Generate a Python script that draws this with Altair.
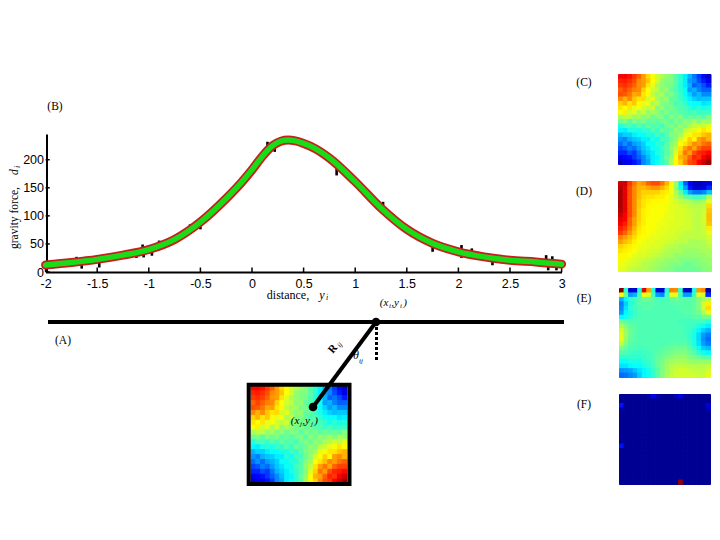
import altair as alt
import pandas as pd

# ---- curve ----
curve_x = [-2, -1.75, -1.5, -1.25, -1, -0.75, -0.5, -0.25, -0.1, 0, 0.1, 0.2, 0.28, 0.35, 0.42, 0.5, 0.6, 0.75, 1, 1.25, 1.5, 1.75, 2, 2.25, 2.5, 2.75, 3]
curve_y = [12.5, 17, 22.5, 30, 40, 58, 89, 131, 160, 182, 206, 225, 233, 235, 233.5, 229, 221, 203, 161, 114, 76, 51, 36, 27, 21, 18, 14]

noise_x = [-1.92, -1.7, -1.65, -1.55, -1.48, -1.4, -1.12, -1.06, -1.05, -0.97, -0.9, -0.6, -0.5, 0.15, 0.22, 0.82, 0.87, 1.27, 1.37, 1.75, 2.03, 2.03, 2.13, 2.33, 2.85, 2.87, 2.91, 2.95]
noise_lo = [7, 17, 6, 20, 8, 20, 25, 38, 26, 29, 44, 76, 76, 218, 214, 172, 180, 110, 90, 36, 40, 25, 35, 12, 18, 3, 18, 3]
noise_hi = [20, 27, 14, 28, 18, 28, 40, 49, 36, 38, 56, 85, 86, 232, 224, 190, 192, 125, 103, 50, 48, 35, 42, 22, 30, 14, 28, 12]

x_ticks = [-2, -1.5, -1, -0.5, 0, 0.5, 1, 1.5, 2, 2.5, 3]
y_ticks = [0, 50, 100, 150, 200]

# ---- heat maps ----
map_c = [
[.88,.88,.86,.82,.78,.72,.66,.62,.58,.55,.52,.50,.46,.42,.36,.30,.24,.18,.13,.07],
[.84,.85,.83,.80,.74,.72,.68,.62,.58,.52,.50,.50,.46,.42,.36,.28,.26,.20,.15,.10],
[.82,.83,.81,.78,.73,.72,.65,.60,.54,.52,.50,.49,.46,.41,.36,.30,.22,.24,.20,.15],
[.78,.81,.78,.75,.74,.67,.62,.58,.56,.51,.52,.47,.45,.42,.38,.28,.30,.25,.22,.22],
[.80,.79,.76,.71,.72,.65,.63,.56,.53,.54,.49,.50,.46,.43,.38,.33,.28,.31,.26,.26],
[.74,.70,.74,.68,.65,.66,.58,.60,.54,.51,.52,.47,.47,.43,.40,.36,.33,.31,.32,.32],
[.67,.70,.65,.68,.63,.60,.62,.54,.56,.50,.50,.48,.44,.46,.42,.39,.38,.38,.35,.36],
[.65,.62,.65,.60,.62,.58,.56,.58,.50,.52,.48,.50,.47,.45,.44,.42,.39,.42,.39,.41],
[.62,.64,.58,.60,.54,.58,.52,.54,.52,.48,.50,.47,.48,.46,.45,.43,.45,.42,.43,.43],
[.54,.56,.56,.52,.54,.50,.52,.48,.50,.50,.46,.50,.48,.50,.46,.48,.46,.48,.46,.50],
[.48,.50,.46,.50,.48,.50,.46,.48,.46,.48,.50,.46,.50,.48,.52,.50,.54,.50,.54,.52],
[.41,.44,.45,.43,.46,.44,.48,.45,.46,.44,.48,.50,.48,.52,.50,.54,.56,.58,.56,.60],
[.37,.36,.40,.41,.40,.43,.42,.46,.43,.48,.46,.48,.52,.50,.56,.58,.60,.62,.65,.63],
[.30,.33,.33,.36,.38,.38,.41,.40,.44,.42,.46,.50,.50,.54,.60,.62,.65,.65,.68,.70],
[.27,.25,.30,.32,.33,.36,.36,.41,.39,.44,.44,.48,.52,.58,.62,.67,.63,.72,.74,.70],
[.23,.27,.23,.28,.30,.33,.38,.38,.42,.41,.46,.50,.54,.62,.65,.69,.74,.72,.76,.78],
[.19,.21,.25,.23,.28,.32,.35,.39,.39,.44,.46,.52,.56,.65,.72,.76,.71,.78,.81,.81],
[.16,.16,.20,.18,.24,.30,.33,.36,.40,.42,.46,.50,.60,.67,.76,.72,.80,.84,.85,.87],
[.11,.13,.14,.18,.22,.26,.31,.36,.37,.42,.48,.52,.62,.70,.72,.78,.84,.82,.88,.92],
[.07,.10,.11,.14,.18,.26,.29,.36,.39,.42,.46,.54,.63,.67,.74,.80,.82,.88,.92,.97],
]

map_d = [
[.92,.92,.82,.76,.71,.73,.78,.80,.80,.76,.70,.63,.52,.36,.22,.12,.07,.06,.07,.10],
[.94,.90,.80,.74,.70,.69,.71,.73,.73,.70,.66,.61,.52,.38,.28,.14,.08,.08,.10,.16],
[.96,.90,.80,.74,.69,.67,.67,.67,.67,.65,.64,.61,.54,.46,.36,.28,.24,.24,.26,.32],
[.96,.90,.80,.74,.69,.66,.65,.65,.64,.64,.62,.60,.56,.52,.48,.46,.44,.44,.46,.55],
[.96,.90,.80,.74,.68,.65,.64,.63,.63,.63,.62,.60,.58,.56,.55,.54,.52,.52,.54,.60],
[.96,.90,.80,.74,.68,.65,.63,.63,.62,.62,.61,.60,.59,.58,.57,.56,.55,.55,.56,.66],
[.95,.90,.80,.74,.67,.64,.63,.62,.62,.62,.61,.60,.59,.59,.58,.57,.56,.56,.57,.68],
[.93,.88,.80,.74,.67,.64,.63,.62,.62,.62,.60,.60,.59,.59,.58,.58,.56,.56,.58,.69],
[.90,.88,.78,.72,.67,.64,.62,.62,.62,.61,.60,.60,.59,.59,.58,.58,.56,.56,.58,.69],
[.88,.85,.78,.72,.66,.64,.62,.62,.61,.61,.60,.59,.59,.59,.58,.58,.56,.56,.58,.68],
[.85,.82,.76,.70,.65,.63,.62,.62,.61,.60,.60,.59,.59,.58,.58,.58,.56,.56,.57,.64],
[.82,.78,.73,.68,.64,.63,.62,.61,.60,.60,.59,.59,.58,.58,.56,.56,.56,.56,.57,.60],
[.75,.72,.69,.66,.63,.62,.61,.60,.60,.59,.59,.58,.58,.56,.56,.56,.56,.56,.56,.58],
[.72,.69,.67,.64,.62,.61,.60,.60,.59,.59,.58,.58,.56,.56,.56,.54,.54,.54,.55,.57],
[.67,.65,.64,.63,.61,.60,.60,.59,.59,.58,.56,.56,.55,.54,.54,.54,.54,.54,.54,.56],
[.65,.64,.63,.62,.60,.60,.59,.58,.58,.56,.55,.54,.54,.54,.52,.52,.52,.53,.54,.54],
[.63,.63,.62,.60,.59,.59,.58,.57,.56,.55,.54,.54,.52,.52,.52,.52,.52,.52,.52,.54],
[.63,.61,.60,.59,.58,.57,.56,.55,.54,.54,.52,.52,.52,.50,.50,.50,.50,.51,.52,.52],
[.61,.60,.59,.58,.57,.55,.55,.54,.53,.52,.52,.50,.50,.50,.48,.48,.50,.50,.51,.52],
[.60,.59,.57,.56,.55,.55,.54,.53,.52,.51,.50,.50,.48,.48,.48,.48,.48,.49,.50,.51],
]

map_e = [
[1.0,.42,.08,.08,.40,.90,.72,.40,.08,.08,.42,.75,.74,.42,.06,.06,.40,.72,.74,.03],
[.62,.48,.28,.30,.46,.62,.60,.44,.28,.26,.44,.60,.60,.44,.28,.28,.44,.60,.58,.16],
[.30,.37,.42,.44,.46,.48,.48,.46,.45,.44,.45,.47,.48,.47,.46,.46,.47,.50,.54,.56],
[.25,.33,.40,.44,.46,.46,.46,.46,.45,.45,.45,.46,.46,.46,.46,.46,.47,.50,.58,.64],
[.26,.35,.42,.44,.45,.46,.46,.45,.45,.45,.45,.45,.45,.46,.46,.46,.47,.50,.58,.66],
[.28,.37,.40,.43,.45,.45,.45,.45,.45,.45,.45,.45,.45,.45,.46,.46,.47,.49,.54,.60],
[.37,.39,.42,.44,.45,.45,.45,.45,.45,.45,.45,.45,.45,.45,.45,.45,.46,.46,.48,.48],
[.48,.46,.45,.45,.45,.45,.45,.45,.45,.45,.45,.45,.45,.44,.44,.44,.44,.44,.44,.42],
[.54,.50,.47,.46,.45,.45,.45,.45,.45,.45,.45,.45,.45,.45,.44,.44,.43,.41,.38,.36],
[.58,.52,.48,.46,.45,.45,.45,.45,.45,.45,.45,.45,.45,.45,.44,.43,.41,.37,.33,.30],
[.60,.53,.48,.46,.45,.45,.45,.45,.45,.45,.45,.45,.45,.45,.44,.43,.40,.34,.28,.25],
[.60,.52,.47,.46,.45,.45,.45,.45,.45,.45,.45,.45,.45,.45,.45,.43,.40,.34,.27,.23],
[.56,.50,.46,.45,.45,.45,.45,.45,.45,.45,.45,.46,.46,.46,.46,.44,.41,.35,.28,.25],
[.50,.47,.45,.45,.44,.44,.45,.45,.45,.46,.47,.47,.48,.48,.48,.46,.43,.38,.33,.31],
[.46,.45,.44,.43,.43,.44,.44,.45,.46,.47,.48,.49,.50,.50,.50,.48,.46,.42,.39,.37],
[.42,.42,.42,.42,.42,.42,.44,.45,.47,.48,.50,.51,.52,.52,.52,.50,.49,.48,.46,.46],
[.38,.38,.40,.40,.40,.42,.43,.45,.47,.49,.52,.53,.54,.54,.54,.53,.52,.52,.52,.52],
[.35,.35,.37,.38,.38,.40,.42,.44,.47,.50,.53,.55,.56,.56,.56,.55,.55,.55,.55,.56],
[.27,.28,.29,.32,.35,.37,.40,.43,.46,.50,.53,.56,.57,.58,.58,.57,.56,.56,.56,.58],
[.23,.24,.26,.28,.33,.37,.39,.42,.46,.50,.54,.56,.58,.58,.58,.58,.58,.57,.57,.60],
]

map_f = [
[.02,.02,.02,.02,.02,.02,.04,.10,.05,.02,.02,.02,.05,.10,.02,.02,.02,.02,.02,.02],
[.02,.02,.02,.02,.02,.02,.02,.02,.02,.02,.02,.02,.02,.02,.02,.02,.02,.02,.02,.02],
[.14,.02,.02,.02,.02,.02,.02,.02,.02,.02,.02,.02,.02,.02,.02,.02,.02,.02,.02,.08],
[.04,.02,.02,.02,.02,.02,.02,.02,.02,.02,.02,.02,.02,.02,.02,.02,.02,.02,.02,.05],
[.02,.02,.02,.02,.02,.02,.02,.02,.02,.02,.02,.02,.02,.02,.02,.02,.02,.02,.02,.02],
[.02,.02,.02,.02,.02,.02,.02,.02,.02,.02,.02,.02,.02,.02,.02,.02,.02,.02,.02,.02],
[.02,.02,.02,.02,.02,.02,.02,.02,.02,.02,.02,.02,.02,.02,.02,.02,.02,.02,.02,.02],
[.02,.02,.02,.02,.02,.02,.02,.02,.02,.02,.02,.02,.02,.02,.02,.02,.02,.02,.02,.02],
[.02,.02,.02,.02,.02,.02,.02,.02,.02,.02,.02,.02,.02,.02,.02,.02,.02,.02,.02,.02],
[.02,.02,.02,.02,.02,.02,.02,.02,.02,.02,.02,.02,.02,.02,.02,.02,.02,.02,.02,.02],
[.02,.02,.02,.02,.02,.02,.02,.02,.02,.02,.02,.02,.02,.02,.02,.02,.02,.02,.02,.02],
[.14,.02,.02,.02,.02,.02,.02,.02,.02,.02,.02,.02,.02,.02,.02,.02,.02,.02,.02,.02],
[.02,.02,.02,.02,.02,.02,.02,.02,.02,.02,.02,.02,.02,.02,.02,.02,.02,.02,.02,.02],
[.02,.02,.02,.02,.02,.02,.02,.02,.02,.02,.02,.02,.02,.02,.02,.02,.02,.02,.02,.02],
[.02,.02,.02,.02,.02,.02,.02,.02,.02,.02,.02,.02,.02,.02,.02,.02,.02,.02,.02,.02],
[.02,.02,.02,.02,.02,.02,.02,.02,.02,.02,.02,.02,.02,.02,.02,.02,.02,.02,.02,.02],
[.02,.02,.02,.02,.02,.02,.02,.02,.02,.02,.02,.02,.02,.02,.02,.02,.02,.02,.02,.02],
[.02,.02,.02,.02,.02,.02,.02,.02,.02,.02,.02,.02,.02,.02,.02,.02,.02,.02,.02,.02],
[.02,.02,.02,.02,.02,.02,.02,.02,.02,.02,.02,.02,.02,.02,.02,.02,.02,.02,.02,.02],
[.02,.02,.02,.02,.02,.02,.02,.02,.02,.02,.02,.02,.02,.98,.02,.02,.02,.02,.02,.02],
]

JET = alt.Scale(domain=[0, .125, .375, .625, .875, 1],
                range=["#00007f", "#0000ff", "#00ffff", "#ffff00", "#ff0000", "#7f0000"],
                interpolate="rgb")
OX, OY = 8, 8          # page margin
SERIF = "Liberation Serif"
ONE = alt.Data(values=[{"k": 1}])


def heat(matrix, x0, x1, y0, y1):
    rows = [{"c": c, "c2": c + 1, "r": r, "r2": r + 1, "v": v}
            for r, row in enumerate(matrix) for c, v in enumerate(row)]
    xs = alt.Scale(domain=[0, 20], range=[x0 - OX, x1 - OX], nice=False, zero=False)
    ys = alt.Scale(domain=[0, 20], range=[y0 - OY, y1 - OY], nice=False, zero=False)
    return alt.Chart(pd.DataFrame(rows)).mark_rect(strokeWidth=1).encode(
        x=alt.X("c:Q", scale=xs, axis=None),
        x2="c2:Q",
        y=alt.Y("r:Q", scale=ys, axis=None),
        y2="r2:Q",
        color=alt.Color("v:Q", scale=JET, legend=None),
        stroke=alt.Stroke("v:Q", scale=JET, legend=None),
    )


def txt(s, x, y, size=11.5, angle=None, style=None, weight=None, align="center"):
    kw = dict(text=s, font=SERIF, fontSize=size, color="black", align=align, baseline="middle")
    if angle is not None:
        kw["angle"] = angle
    if style:
        kw["fontStyle"] = style
    if weight:
        kw["fontWeight"] = weight
    return alt.Chart(ONE).mark_text(**kw).encode(x=alt.value(x - OX), y=alt.value(y - OY))


def seg(x0, y0, x1, y1, width, dash=None):
    kw = dict(color="black", strokeWidth=width)
    if dash:
        kw["strokeDash"] = dash
    return alt.Chart(ONE).mark_rule(**kw).encode(
        x=alt.value(x0 - OX), x2=alt.value(x1 - OX), y=alt.value(y0 - OY), y2=alt.value(y1 - OY))


def dot(x, y, size):
    return alt.Chart(ONE).mark_circle(color="black", opacity=1, size=size).encode(
        x=alt.value(x - OX), y=alt.value(y - OY))


# ---- main plot scales ----
XS = alt.Scale(domain=[-2, 3], range=[45.6 - OX, 561.6 - OX], nice=False, zero=False)
YS = alt.Scale(domain=[0, 245.8], range=[272 - OY, 134 - OY], nice=False, zero=False)
H = 520

curve = pd.DataFrame({"x": curve_x, "y": curve_y})
noise = pd.DataFrame({"x": noise_x, "lo": noise_lo, "hi": noise_hi})
tx = pd.DataFrame({"x": x_ticks, "a": [0] * len(x_ticks), "b": [8] * len(x_ticks)})
ty = pd.DataFrame({"y": y_ticks, "a": [-2] * len(y_ticks), "b": [-1.96] * len(y_ticks)})

axes = alt.Chart(curve).mark_line(opacity=0).encode(
    x=alt.X("x:Q", scale=XS, axis=alt.Axis(
        orient="bottom", offset=(272 - OY) - H, values=x_ticks, title=None, grid=False,
        domainColor="black", domainWidth=2, tickSize=0, labelPadding=5,
        labelFont="Liberation Sans", labelFontSize=12.5, labelColor="black",
        labelExpr="'' + datum.value", labelFlush=False, labelOverlap=False)),
    y=alt.Y("y:Q", scale=YS, axis=alt.Axis(
        orient="left", offset=-(46.5 - OX), values=y_ticks, title=None, grid=False,
        domainColor="black", domainWidth=2, tickSize=0, labelPadding=3,
        labelFont="Liberation Sans", labelFontSize=12.5, labelColor="black",
        labelExpr="'' + datum.value", labelFlush=False, labelOverlap=False)),
)
x_tick_marks = alt.Chart(tx).mark_rule(color="black", strokeWidth=1.5).encode(
    x=alt.X("x:Q", scale=XS, axis=None),
    y=alt.Y("a:Q", scale=YS, axis=None), y2="b:Q")
y_tick_marks = alt.Chart(ty).mark_rule(color="black", strokeWidth=1.5).encode(
    y=alt.Y("y:Q", scale=YS, axis=None),
    x=alt.X("a:Q", scale=XS, axis=None), x2="b:Q")
noise_marks = alt.Chart(noise).mark_rule(color="black", strokeWidth=2.6).encode(
    x=alt.X("x:Q", scale=XS, axis=None),
    y=alt.Y("lo:Q", scale=YS, axis=None), y2="hi:Q")
red = alt.Chart(curve).mark_line(color="#c81e1e", strokeWidth=9, interpolate="monotone", strokeCap="round").encode(
    x=alt.X("x:Q", scale=XS, axis=None), y=alt.Y("y:Q", scale=YS, axis=None))
green = alt.Chart(curve).mark_line(color="#19dc19", strokeWidth=5.5, interpolate="monotone", strokeCap="round").encode(
    x=alt.X("x:Q", scale=XS, axis=None), y=alt.Y("y:Q", scale=YS, axis=None))

layers = [
    heat(map_c, 618.5, 711, 74.5, 164.5),
    heat(map_d, 618.5, 711.5, 181.5, 271.5),
    heat(map_e, 619.5, 710.5, 288.5, 377.5),
    heat(map_f, 619.5, 710.5, 394.5, 484.5),
    heat(map_c, 251, 347, 386, 484),
    axes, x_tick_marks, y_tick_marks, noise_marks, red, green,
    # schematic
    seg(48, 322, 564, 322, 4),
    seg(376.5, 322, 376.5, 360, 3, [3, 2]),
    seg(376, 322, 313, 407, 4),
    dot(376, 322, 75),
    dot(313, 407, 75),
    alt.Chart(ONE).mark_rect(fill=None, stroke="black", strokeWidth=4).encode(
        x=alt.value(248.7 - OX), x2=alt.value(349.5 - OX),
        y=alt.value(384.7 - OY), y2=alt.value(484 - OY)),
    # labels
    txt("(A)", 63, 341),
    txt("(B)", 55, 107),
    txt("(C)", 584, 83),
    txt("(D)", 584, 192),
    txt("(E)", 584, 299),
    txt("(F)", 584, 405),
    txt("gravity force,", 14.5, 218, 11.5, angle=270),
    txt("d", 14.5, 172, 11.5, angle=270, style="italic"),
    txt("i", 17.5, 167, 8, angle=270, style="italic"),
    txt("distance,", 288, 294.5, 12),
    txt("y", 322, 295, 12, style="italic"),
    txt("i", 327, 298, 8, style="italic"),
    txt("(x", 384, 303, 11, style="italic"),
    txt("i", 390, 306, 7, style="italic"),
    txt(",y", 395, 303, 11, style="italic"),
    txt("i", 401, 306, 7, style="italic"),
    txt(")", 405, 303, 11, style="italic"),
    txt("(x", 295, 421, 11, style="italic"),
    txt("j", 301, 424, 7, style="italic"),
    txt(",y", 306, 421, 11, style="italic"),
    txt("j", 312, 424, 7, style="italic"),
    txt(")", 316, 421, 11, style="italic"),
    txt("R", 333, 349, 11, angle=310, weight="bold"),
    txt("ij", 340, 345, 7, angle=310, style="italic"),
    txt("θ", 356, 355, 12, style="italic"),
    txt("ij", 361, 361, 7, style="italic"),
]

chart = alt.layer(*layers).resolve_scale(
    x="independent", y="independent", color="independent", stroke="independent"
).properties(
    width=704, height=H, padding=0,
    autosize=alt.AutoSizeParams(type="none"),
).configure_view(stroke=None)

chart.save("out.html", embed_options={"renderer": "svg", "actions": False})
